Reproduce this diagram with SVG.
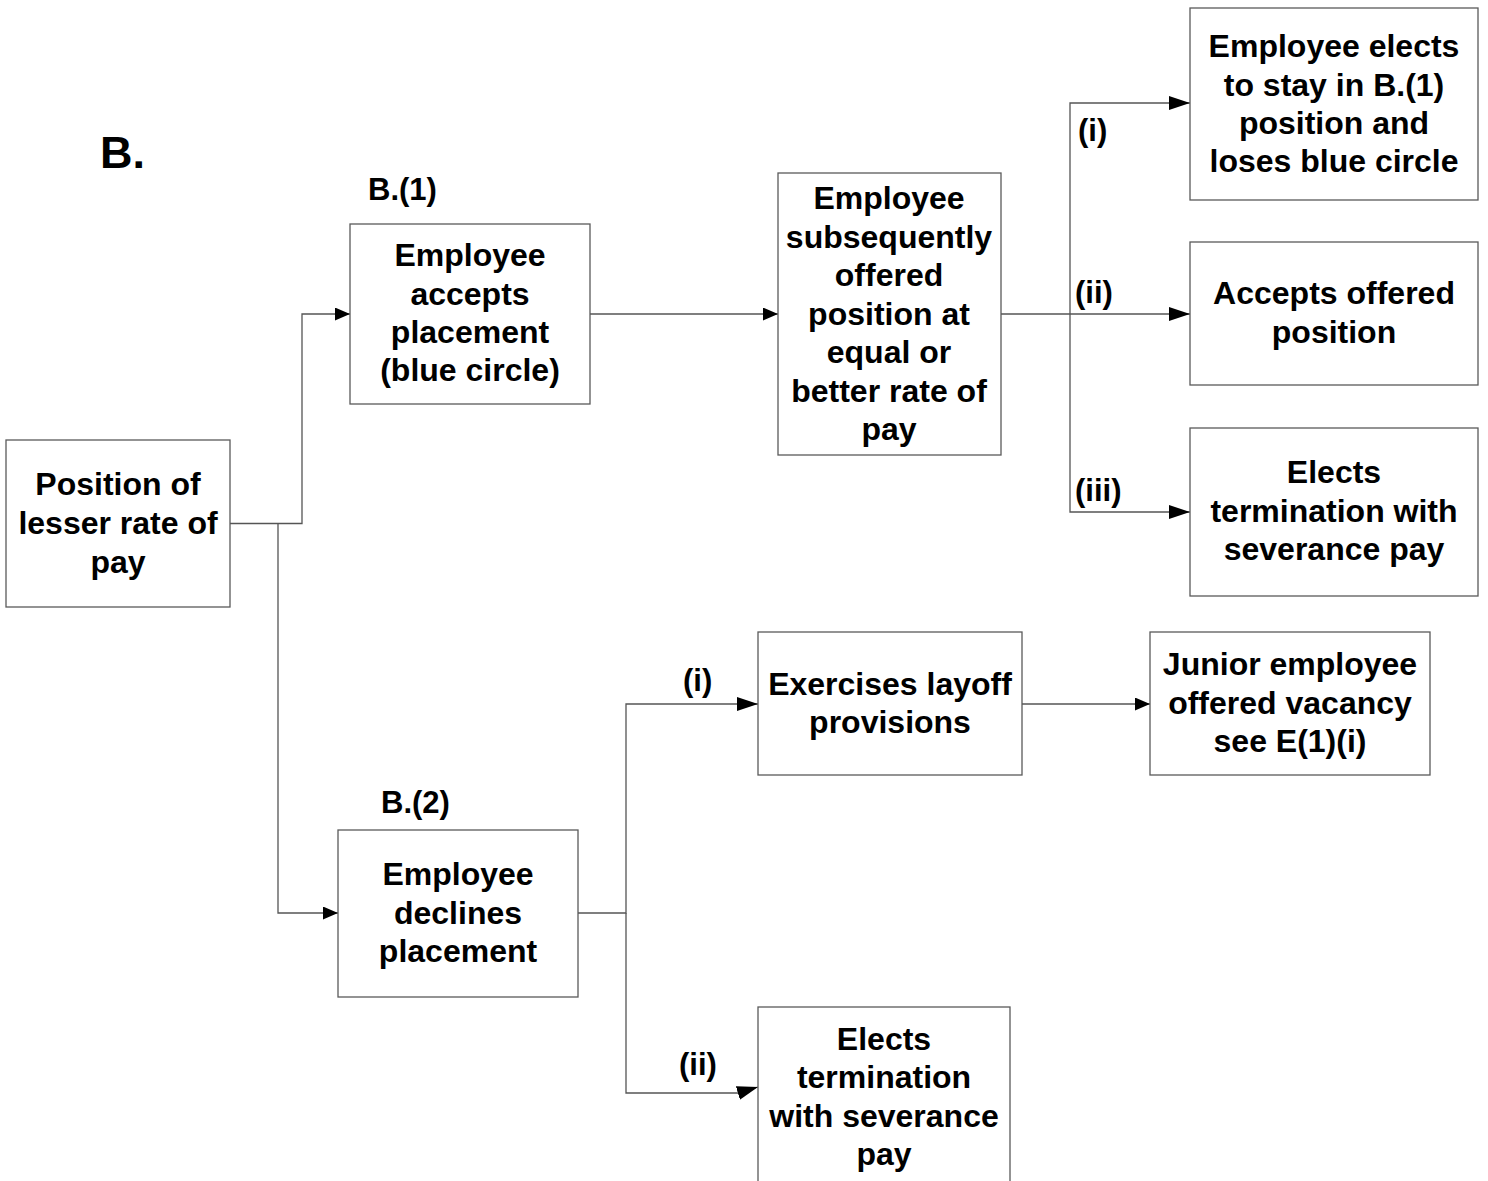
<svg xmlns="http://www.w3.org/2000/svg" width="1488" height="1181" viewBox="0 0 1488 1181">
<style>
.box{fill:#fff;stroke:#5a5a5a;stroke-width:1.3}
.t{font-family:"Liberation Sans",Arial,sans-serif;font-weight:bold;font-size:32px;text-anchor:middle;fill:#000}
.lbl{font-family:"Liberation Sans",Arial,sans-serif;font-weight:bold;font-size:31px;fill:#000}
.c{fill:none;stroke:#555;stroke-width:1.3}
</style>
<defs>
<marker id="ah" markerUnits="userSpaceOnUse" markerWidth="16" markerHeight="14" refX="15" refY="6.5" orient="auto">
<path d="M0,0 L15,6.5 L0,13 Z" fill="#000"/>
</marker>
<marker id="ahl" markerUnits="userSpaceOnUse" markerWidth="22" markerHeight="15" refX="21" refY="7" orient="auto">
<path d="M0,0 L21,7 L0,14 Z" fill="#000"/>
</marker>
</defs>
<rect width="1488" height="1181" fill="#fff"/>
<text class="lbl" x="100" y="168" style="font-size:45px">B.</text>
<text class="lbl" x="368" y="200">B.(1)</text>
<text class="lbl" x="381" y="813">B.(2)</text>
<text class="lbl" x="1078" y="141">(i)</text>
<text class="lbl" x="1075" y="303">(ii)</text>
<text class="lbl" x="1075" y="501">(iii)</text>
<text class="lbl" x="683" y="691">(i)</text>
<text class="lbl" x="679" y="1075">(ii)</text>
<g id="connectors">
<path class="c" d="M230,523.5 H302 V314 H350" marker-end="url(#ah)"/>
<path class="c" d="M278,523.5 V913 H338" marker-end="url(#ah)"/>
<path class="c" d="M590,314 H778" marker-end="url(#ah)"/>
<path class="c" d="M1001,314 H1190" marker-end="url(#ahl)"/>
<path class="c" d="M1070,314 V103 H1190" marker-end="url(#ahl)"/>
<path class="c" d="M1070,314 V512 H1190" marker-end="url(#ahl)"/>
<path class="c" d="M578,913 H626 V704 H758" marker-end="url(#ahl)"/>
<path class="c" d="M626,913 V1093 H738 L758,1087" marker-end="url(#ahl)"/>
<path class="c" d="M1022,704 H1150" marker-end="url(#ah)"/>
</g>
<g id="n1"><rect class="box" x="6" y="440" width="224" height="167"/>
<text class="t" x="118" y="495">Position of</text><text class="t" x="118" y="534">lesser rate of</text><text class="t" x="118" y="573">pay</text></g>
<g id="n2"><rect class="box" x="350" y="224" width="240" height="180"/>
<text class="t" x="470" y="266">Employee</text><text class="t" x="470" y="305">accepts</text><text class="t" x="470" y="343">placement</text><text class="t" x="470" y="381">(blue circle)</text></g>
<g id="n3"><rect class="box" x="778" y="173" width="223" height="282"/>
<text class="t" x="889" y="209">Employee</text><text class="t" x="889" y="248">subsequently</text><text class="t" x="889" y="286">offered</text><text class="t" x="889" y="325">position at</text><text class="t" x="889" y="363">equal or</text><text class="t" x="889" y="402">better rate of</text><text class="t" x="889" y="440">pay</text></g>
<g id="n4"><rect class="box" x="1190" y="8" width="288" height="192"/>
<text class="t" x="1334" y="57">Employee elects</text><text class="t" x="1334" y="96">to stay in B.(1)</text><text class="t" x="1334" y="134">position and</text><text class="t" x="1334" y="172">loses blue circle</text></g>
<g id="n5"><rect class="box" x="1190" y="242" width="288" height="143"/>
<text class="t" x="1334" y="304">Accepts offered</text><text class="t" x="1334" y="343">position</text></g>
<g id="n6"><rect class="box" x="1190" y="428" width="288" height="168"/>
<text class="t" x="1334" y="483">Elects</text><text class="t" x="1334" y="522">termination with</text><text class="t" x="1334" y="560">severance pay</text></g>
<g id="n7"><rect class="box" x="338" y="830" width="240" height="167"/>
<text class="t" x="458" y="885">Employee</text><text class="t" x="458" y="924">declines</text><text class="t" x="458" y="962">placement</text></g>
<g id="n8"><rect class="box" x="758" y="632" width="264" height="143"/>
<text class="t" x="890" y="695">Exercises layoff</text><text class="t" x="890" y="733">provisions</text></g>
<g id="n9"><rect class="box" x="1150" y="632" width="280" height="143"/>
<text class="t" x="1290" y="675">Junior employee</text><text class="t" x="1290" y="714">offered vacancy</text><text class="t" x="1290" y="752">see E(1)(i)</text></g>
<g id="n10"><rect class="box" x="758" y="1007" width="252" height="200"/>
<text class="t" x="884" y="1050">Elects</text><text class="t" x="884" y="1088">termination</text><text class="t" x="884" y="1127">with severance</text><text class="t" x="884" y="1165">pay</text></g>
</svg>
